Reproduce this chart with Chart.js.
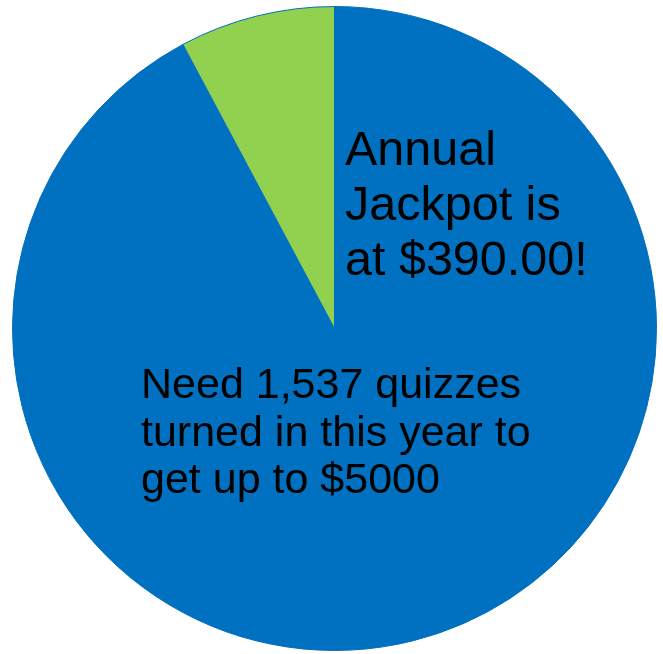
<!DOCTYPE html>
<html>
<head>
<meta charset="utf-8">
<script src="https://cdn.jsdelivr.net/npm/chart.js@4/dist/chart.umd.min.js"></script>
<style>
  html, body { margin: 0; padding: 0; background: #ffffff; }
  #wrap { width: 663px; height: 654px; position: relative; }
</style>
</head>
<body>
<div id="wrap"><canvas id="c" width="663" height="654"></canvas></div>
<script>
const categories = ['Still needed', 'Annual Jackpot'];
const amounts = [4610, 390];
const sliceColors = ['#0070C0', '#92D050'];
const jackpotText = ['Annual', 'Jackpot is', 'at $390.00!'];
const needText = ['Need 1,537 quizzes', 'turned in this year to', 'get up to $5000'];

const textPlugin = {
  id: 'sliceText',
  afterDraw(chart) {
    const ctx = chart.ctx;
    ctx.save();
    ctx.fillStyle = '#000000';
    ctx.textAlign = 'left';
    ctx.textBaseline = 'alphabetic';
    ctx.font = '48.5px "Liberation Sans", Arial, sans-serif';
    jackpotText.forEach((t, i) => ctx.fillText(t, 345, 165 + i * 55));
    ctx.font = '43px "Liberation Sans", Arial, sans-serif';
    needText.forEach((t, i) => ctx.fillText(t, 141, 398 + i * 47.5));
    ctx.restore();
  }
};

new Chart(document.getElementById('c'), {
  type: 'pie',
  data: {
    labels: categories,
    datasets: [{
      data: amounts,
      backgroundColor: sliceColors,
      borderColor: '#0070C0',
      borderWidth: 1
    }]
  },
  options: {
    responsive: false,
    animation: false,
    layout: { padding: { left: 12, right: 6, top: 6, bottom: 3 } },
    plugins: { legend: { display: false }, tooltip: { enabled: false } }
  },
  plugins: [textPlugin]
});
</script>
</body>
</html>
